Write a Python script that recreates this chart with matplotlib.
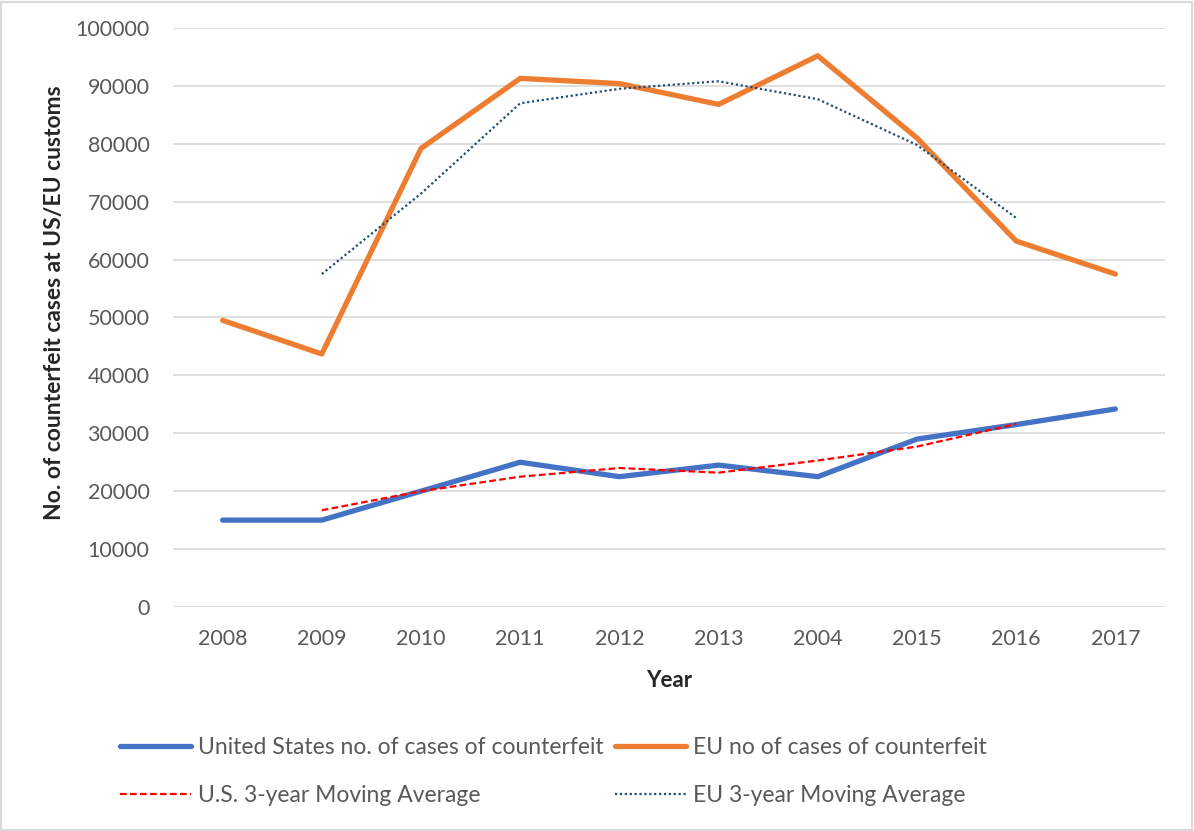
import matplotlib.pyplot as plt
from matplotlib.patches import Rectangle

plt.rcParams["font.family"] = ["Lato", "DejaVu Sans"]

years = ["2008", "2009", "2010", "2011", "2012", "2013", "2004", "2015", "2016", "2017"]
us_cases = [15000, 15000, 20000, 25000, 22500, 24500, 22500, 29000, 31500, 34200]
eu_cases = [49500, 43700, 79200, 91300, 90400, 86800, 95200, 81000, 63200, 57500]
# 3-year moving averages as drawn (2009..2016)
us_ma = [16700, 20000, 22500, 24000, 23200, 25300, 27700, 31600]
eu_ma = [57500, 71400, 87000, 89500, 90800, 87700, 79800, 67200]

x = list(range(len(years)))
x_ma = x[1:-1]

fig = plt.figure(figsize=(11.94, 8.31), dpi=100)
ax = fig.add_axes([0.1449, 0.2696, 0.8308, 0.6967])

ax.plot(x, us_cases, color="#4472C4", lw=3.8, solid_capstyle="round",
        label="United States no. of cases of counterfeit", zorder=3)
ax.plot(x, eu_cases, color="#ED7D31", lw=3.8, solid_capstyle="round",
        label="EU no of cases of counterfeit", zorder=3)
ax.plot(x_ma, us_ma, color="#FF0000", lw=1.6, ls=(0, (3, 1.5)),
        label="U.S. 3-year Moving Average", zorder=4)
ax.plot(x_ma, eu_ma, color="#1F4E79", lw=1.6, ls=(0, (1, 1.2)),
        label="EU 3-year Moving Average", zorder=4)

ax.set_xlim(-0.5, len(years) - 0.5)
ax.set_ylim(0, 100000)
ax.set_yticks(range(0, 100001, 10000))
ax.set_xticks(x)
ax.set_xticklabels(years)
ax.grid(axis="y", color="#D9D9D9", lw=1.2)
ax.set_axisbelow(True)
for s in ax.spines.values():
    s.set_visible(False)
ax.tick_params(length=0, labelsize=15.5, labelcolor="#595959")
ax.tick_params(axis="x", pad=16)
ax.tick_params(axis="y", pad=17)

ax.set_xlabel("Year", fontsize=16, fontweight="bold", color="#262626", labelpad=15)
ax.set_ylabel("No. of counterfeit cases at US/EU customs", fontsize=16.5,
              fontweight="bold", color="#262626")
ax.yaxis.set_label_coords(-0.109, 0.525)

h, l = ax.get_legend_handles_labels()
order = [0, 2, 1, 3]
fig.legend([h[i] for i in order], [l[i] for i in order], ncol=2,
           loc="center left", bbox_to_anchor=(0.083, 0.0715), frameon=False,
           fontsize=16.5, labelcolor="#595959", handlelength=3.1,
           handletextpad=0.3, columnspacing=0.5, labelspacing=1.2)

fig.patches.append(Rectangle((0.001, 0.001), 0.997, 0.997, transform=fig.transFigure,
                             fill=False, edgecolor="#D9D9D9", lw=1.5))

fig.savefig("out.png", dpi=100)
